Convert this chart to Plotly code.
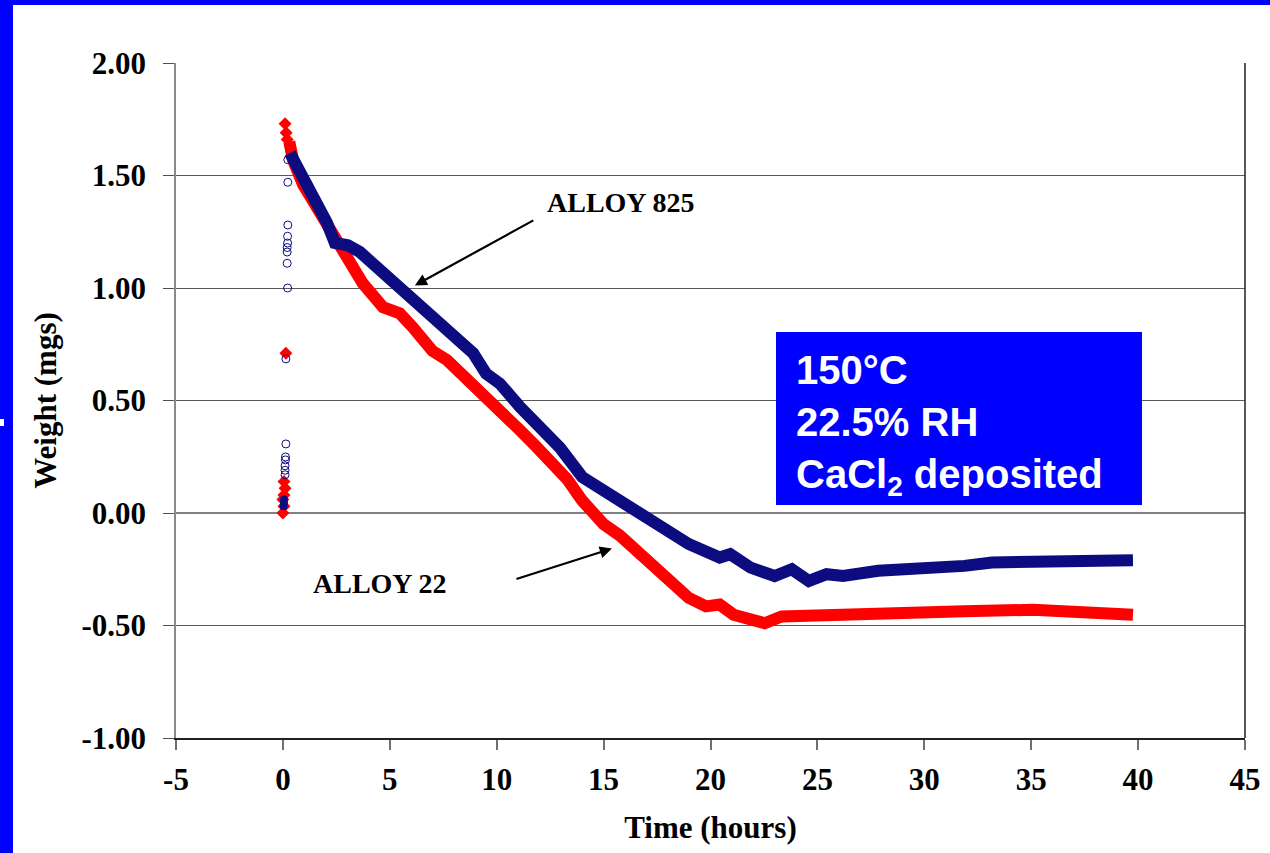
import plotly.graph_objects as go

# ---------------- data ----------------
# Alloy 22 main record (hours, mg)
a22_t = [0.3, 0.47, 0.94, 1.59, 2.34, 2.99, 3.74, 4.68, 5.47, 6.08, 7.0, 7.67, 8.6, 9.8,
         11.1, 11.9, 12.5, 13.3, 14.0, 14.45, 15.0, 15.76, 16.57, 17.37, 18.18, 18.98,
         19.79, 20.43, 21.08, 21.88, 22.53, 23.33, 25.43, 28.65, 31.87, 35.09, 38.3, 39.76]
a22_w = [1.65, 1.57, 1.46, 1.36, 1.24, 1.14, 1.02, 0.915, 0.887, 0.825, 0.72, 0.68, 0.59, 0.487,
         0.367, 0.29, 0.23, 0.15, 0.055, 0.0, -0.05, -0.1, -0.168, -0.243, -0.317, -0.377,
         -0.415, -0.407, -0.452, -0.467, -0.49, -0.46, -0.452, -0.437, -0.437, -0.43, -0.437, -0.452]
# Alloy 22 start-up points
a22_s_t = [0.1, 0.15, 0.2, 0.14, 0.05, 0.1, 0.05, 0.0, 0.05, 0.0]
a22_s_w = [1.73, 1.69, 1.66, 0.71, 0.14, 0.11, 0.08, 0.06, 0.03, 0.0]

# Alloy 825 main record
a825_t = [0.33, 0.8, 1.59, 2.06, 2.43, 3.04, 3.6, 4.54, 5.6, 6.7, 8.28, 8.9, 9.5, 10.15,
          11.1, 12.2, 12.96, 14.0, 15.0, 15.76, 17.05, 18.98, 20.43, 20.92, 21.88, 23.0,
          23.8, 24.6, 25.43, 26.2, 27.84, 30.26, 31.87, 33.16, 35.9, 38.3, 39.76]
a825_w = [1.60, 1.52, 1.39, 1.29, 1.20, 1.19, 1.16, 1.08, 0.99, 0.89, 0.77, 0.71, 0.62, 0.575,
          0.47, 0.365, 0.29, 0.16, 0.10, 0.055, -0.018, -0.138, -0.198, -0.183, -0.243, -0.28,
          -0.25, -0.302, -0.272, -0.28, -0.257, -0.25, -0.235, -0.22, -0.22, -0.213, -0.21]
# Alloy 825 start-up points (open circles)
a825_s_t = [0.23, 0.23, 0.23, 0.22, 0.22, 0.2, 0.2, 0.2, 0.22, 0.14, 0.14, 0.12, 0.12, 0.1, 0.1, 0.1]
a825_s_w = [1.57, 1.47, 1.28, 1.23, 1.20, 1.18, 1.16, 1.11, 1.00, 0.685, 0.307, 0.249, 0.236, 0.21, 0.19, 0.17]
# Alloy 825 start-up points (filled)
a825_f_t = [0.05, 0.05, 0.03]
a825_f_w = [0.06, 0.045, 0.03]

x_ticks = [-5, 0, 5, 10, 15, 20, 25, 30, 35, 40, 45]
x_ticklabels = ["-5", "0", "5", "10", "15", "20", "25", "30", "35", "40", "45"]
y_ticks = [-1.0, -0.5, 0.0, 0.5, 1.0, 1.5, 2.0]
y_ticklabels = ["-1.00", "-0.50", "0.00", "0.50", "1.00", "1.50", "2.00"]

RED = "#ff0000"
NAVY = "#0c0c80"
SERIF = "Liberation Serif"

fig = go.Figure()

fig.add_trace(go.Scatter(x=a22_t, y=a22_w, mode="lines", name="ALLOY 22",
                         line=dict(color=RED, width=12), showlegend=False))
fig.add_trace(go.Scatter(x=a22_s_t, y=a22_s_w, mode="markers", name="ALLOY 22",
                         marker=dict(symbol="diamond", size=10, color=RED), showlegend=False))
fig.add_trace(go.Scatter(x=a825_t, y=a825_w, mode="lines", name="ALLOY 825",
                         line=dict(color=NAVY, width=12), showlegend=False))
fig.add_trace(go.Scatter(x=a825_s_t, y=a825_s_w, mode="markers", name="ALLOY 825",
                         marker=dict(symbol="circle-open", size=8, color=NAVY, line=dict(width=1)),
                         showlegend=False))
fig.add_trace(go.Scatter(x=a825_f_t, y=a825_f_w, mode="markers", name="ALLOY 825",
                         marker=dict(symbol="circle", size=8, color=NAVY), showlegend=False))

W, H = 1270, 853
L, R, T, B = 176, 1245, 63, 738


def px(xp):
    return (xp - L) / (R - L)


def py(yp):
    return (B - yp) / (B - T)


shapes = [
    # slide frame (blue strips)
    dict(type="rect", xref="paper", yref="paper", x0=px(0), x1=px(13), y0=py(H), y1=py(0),
         fillcolor="#0000ff", line=dict(width=0), layer="above"),
    dict(type="rect", xref="paper", yref="paper", x0=px(0), x1=px(W), y0=py(5), y1=py(0),
         fillcolor="#0000ff", line=dict(width=0), layer="above"),
    dict(type="rect", xref="paper", yref="paper", x0=px(0), x1=px(4), y0=py(426), y1=py(419),
         fillcolor="#ffffff", line=dict(width=0), layer="above"),
    # right border of plot area
    dict(type="line", xref="paper", yref="paper", x0=1, x1=1, y0=0, y1=1,
         line=dict(color="#202020", width=1.5)),
    # info box
    dict(type="rect", xref="paper", yref="paper", x0=px(776), x1=px(1142), y0=py(505), y1=py(332),
         fillcolor="#0000ff", line=dict(width=0), layer="above"),
]

annotations = [
    dict(xref="paper", yref="paper", x=px(794), y=py(346), xanchor="left", yanchor="top",
         align="left", showarrow=False,
         text="150°C<br>22.5% RH<br>CaCl<sub>2</sub> deposited",
         font=dict(family="Liberation Sans", size=40, color="white", weight="bold")),
    dict(x=15.81, y=1.38, text="ALLOY 825", showarrow=False,
         font=dict(family=SERIF, size=28, color="black", weight="bold")),
    dict(x=4.54, y=-0.313, text="ALLOY 22", showarrow=False,
         font=dict(family=SERIF, size=28, color="black", weight="bold")),
    dict(x=6.17, y=1.011, text="", showarrow=True, ax=120, ay=-66,
         arrowhead=2, arrowsize=1.1, arrowwidth=2.2, arrowcolor="black"),
    dict(x=15.39, y=-0.158, text="", showarrow=True, ax=-97, ay=31,
         arrowhead=2, arrowsize=1.1, arrowwidth=2.2, arrowcolor="black"),
]

fig.update_layout(
    width=W, height=H,
    margin=dict(l=L, r=W - R, t=T, b=H - B, autoexpand=False),
    paper_bgcolor="white", plot_bgcolor="white",
    showlegend=False,
    shapes=shapes, annotations=annotations,
    xaxis=dict(range=[-5, 45], tickvals=x_ticks, ticktext=x_ticklabels,
               showgrid=False, zeroline=False,
               showline=True, linecolor="#202020", linewidth=1.5,
               ticks="outside", ticklen=10, tickcolor="#707070", tickwidth=1.5,
               ticklabelstandoff=3,
               tickfont=dict(family=SERIF, size=31, color="black", weight="bold"),
               title=dict(text="Time (hours)", standoff=20,
                          font=dict(family=SERIF, size=31, color="black", weight="bold"))),
    yaxis=dict(range=[-1, 2], tickvals=y_ticks, ticktext=y_ticklabels,
               showgrid=True, gridcolor="#5a5a5a", gridwidth=1.2,
               zeroline=True, zerolinecolor="#808080", zerolinewidth=1.5,
               showline=True, linecolor="#8a8a8a", linewidth=1.5,
               ticks="outside", ticklen=11, tickcolor="#505050", tickwidth=1.2,
               ticklabelstandoff=11,
               tickfont=dict(family=SERIF, size=31, color="black", weight="bold"),
               title=dict(text="Weight (mgs)", standoff=16,
                          font=dict(family=SERIF, size=31, color="black", weight="bold"))),
)

fig.write_html("out.html", config={"displayModeBar": False},
               post_script="document.body.style.margin='0';")
